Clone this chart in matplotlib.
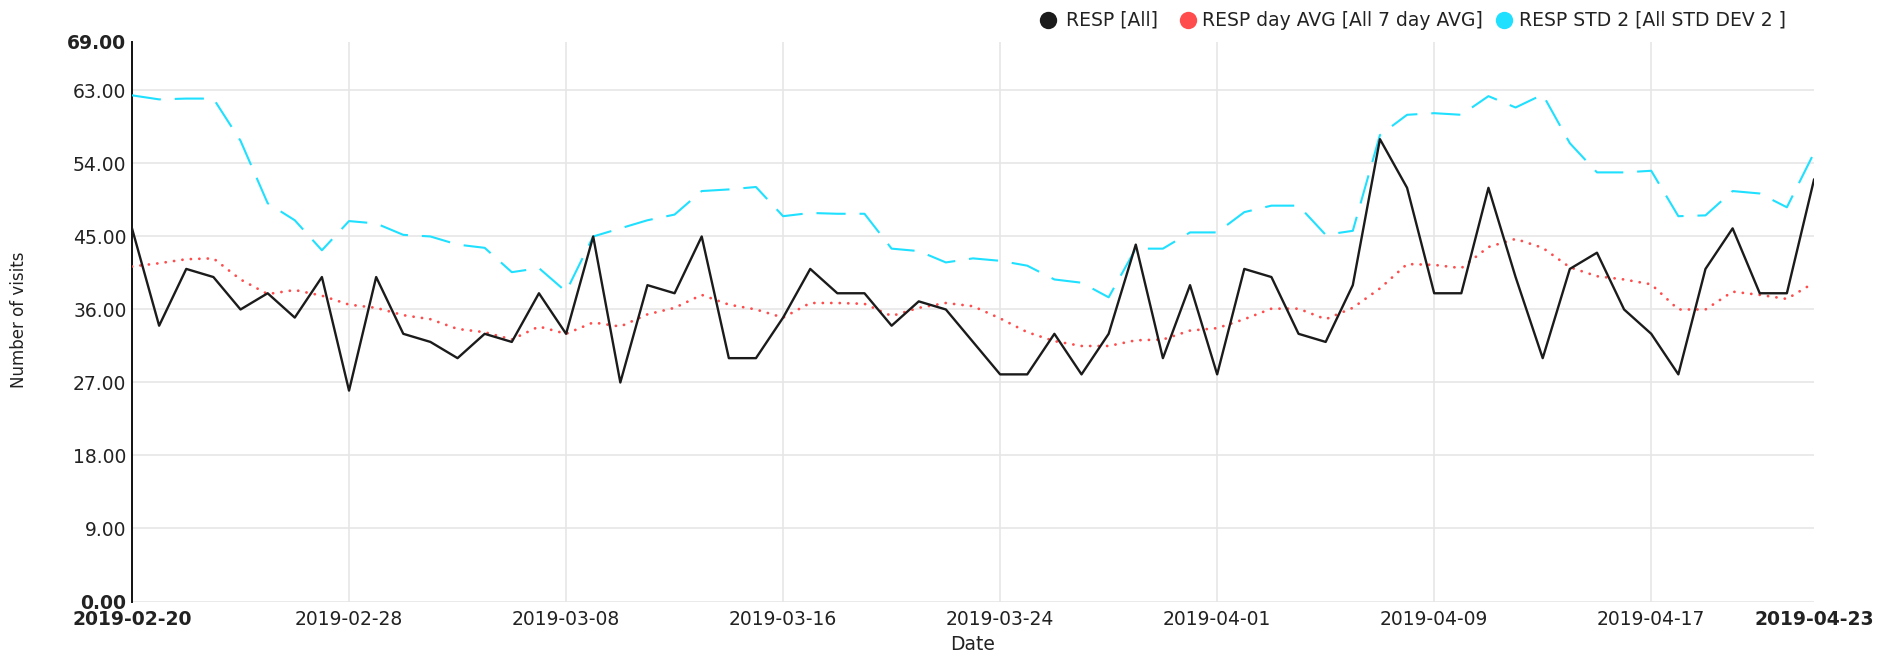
import matplotlib
matplotlib.use("Agg")
import matplotlib.pyplot as plt
from matplotlib.lines import Line2D
import pandas as pd

plt.rcParams['font.family'] = ['DejaVu Sans']
plt.rcParams['lines.scale_dashes'] = False

dates = pd.date_range("2019-02-20", "2019-04-23", freq="D")

resp_all = [46, 34, 41, 40, 36, 38, 35, 40, 26, 40, 33, 32, 30, 33, 32, 38, 33, 45, 27, 39,
            38, 45, 30, 30, 35, 41, 38, 38, 34, 37, 36, 32, 28, 28, 33, 28, 33, 44, 30, 39,
            28, 41, 40, 33, 32, 39, 57, 51, 38, 38, 51, 40, 30, 41, 43, 36, 33, 28, 41, 46,
            38, 38, 52]

resp_avg7 = [41.3, 41.7, 42.2, 42.3, 39.7, 37.9, 38.4, 37.7, 36.6, 36.2, 35.3, 34.8, 33.6, 33.2,
             32.3, 33.9, 33.0, 34.4, 33.9, 35.4, 36.2, 37.8, 36.6, 36.0, 35.0, 36.8, 36.8, 36.7,
             35.2, 36.2, 36.8, 36.4, 34.9, 33.2, 32.1, 31.5, 31.5, 32.2, 32.3, 33.4, 33.7, 34.8,
             36.1, 36.1, 34.8, 36.2, 38.6, 41.6, 41.5, 41.1, 43.7, 44.7, 43.6, 41.2, 40.1, 39.7,
             39.1, 36.0, 36.0, 38.2, 37.8, 37.3, 39.3]

resp_std2 = [62.4, 61.9, 62.0, 62.0, 56.8, 49.1, 47.0, 43.3, 46.9, 46.6, 45.2, 45.0, 44.0, 43.6,
             40.6, 41.1, 38.2, 45.0, 46.0, 47.0, 47.7, 50.6, 50.8, 51.1, 47.5, 47.9, 47.8, 47.8,
             43.5, 43.2, 41.8, 42.3, 42.0, 41.4, 39.7, 39.3, 37.5, 43.5, 43.5, 45.5, 45.5, 48.0,
             48.8, 48.8, 45.2, 45.7, 57.5, 60.0, 60.2, 60.0, 62.3, 60.9, 62.5, 56.5, 52.9, 52.9,
             53.1, 47.5, 47.6, 50.6, 50.3, 48.6, 55.3]

x_tick_labels = ["2019-02-20", "2019-02-28", "2019-03-08", "2019-03-16", "2019-03-24",
                 "2019-04-01", "2019-04-09", "2019-04-17", "2019-04-23"]
y_ticks = [0, 9, 18, 27, 36, 45, 54, 63, 69]

series_labels = ["RESP [All]", "RESP day AVG [All 7 day AVG]", "RESP STD 2 [All STD DEV 2 ]"]
c_black = "#1b1b1b"
c_red = "#ff4d4d"
c_cyan = "#1fe0ff"
text_color = "#222222"

W, H = 1900, 655
fig = plt.figure(figsize=(W / 100, H / 100), dpi=100)
left, right, top, bottom = 132, 1814, 41.8, 601.5
ax = fig.add_axes([left / W, 1 - bottom / H, (right - left) / W, (bottom - top) / H])

ax.plot(dates, resp_std2, color=c_cyan, lw=1.5, dashes=(21, 10), solid_capstyle='butt',
        dash_capstyle='butt', zorder=3)
ax.plot(dates, resp_avg7, color=c_red, lw=2.0, dashes=(0.1, 6.0), dash_capstyle='round',
        zorder=3)
ax.plot(dates, resp_all, color=c_black, lw=1.7, zorder=4)

xt = pd.to_datetime(x_tick_labels)
ax.set_xlim(dates[0], dates[-1])
ax.set_ylim(0, 69)
ax.set_xticks(xt)
ax.set_xticklabels(x_tick_labels)
ax.set_yticks(y_ticks)
ax.set_yticklabels([f"{v:.2f}" for v in y_ticks])

for i, lab in enumerate(ax.get_xticklabels()):
    lab.set_fontsize(13.5)
    lab.set_color(text_color)
    if i == 0 or i == len(x_tick_labels) - 1:
        lab.set_fontweight('bold')
for i, lab in enumerate(ax.get_yticklabels()):
    lab.set_fontsize(13.5)
    lab.set_color(text_color)
    if i == 0 or i == len(y_ticks) - 1:
        lab.set_fontweight('bold')

ax.tick_params(axis='both', length=0)
ax.tick_params(axis='x', pad=6)
ax.tick_params(axis='y', pad=4)

ax.grid(True, color="#e6e6e6", lw=1.2, zorder=0)
xg = ax.xaxis.get_gridlines()
xg[0].set_visible(False)
xg[-1].set_visible(False)
yg = ax.yaxis.get_gridlines()
yg[-1].set_visible(False)

for s in ["top", "right", "bottom"]:
    ax.spines[s].set_visible(False)
ax.spines["left"].set_color("#111111")
ax.spines["left"].set_linewidth(1.4)
ax.set_axisbelow(True)

fig.text((left + right) / 2 / W, 1 - 645 / H, "Date", ha='center', va='center',
         fontsize=13.5, color=text_color)
fig.text(18.7 / W, 1 - 320 / H, "Number of visits", ha='center', va='center',
         rotation=90, fontsize=12, color=text_color)

# legend
leg_y = 1 - 20 / H
items = [(1048, 1066, c_black), (1188, 1202, c_red), (1504, 1519, c_cyan)]
for (cx, tx, col), lab in zip(items, series_labels):
    fig.add_artist(Line2D([cx / W], [leg_y], marker='o', markersize=12.5, color=col,
                          markeredgewidth=0, linestyle='none', transform=fig.transFigure))
    fig.text(tx / W, leg_y, lab, ha='left', va='center', fontsize=13.5, color=text_color)

fig.savefig("out.png", dpi=100)
